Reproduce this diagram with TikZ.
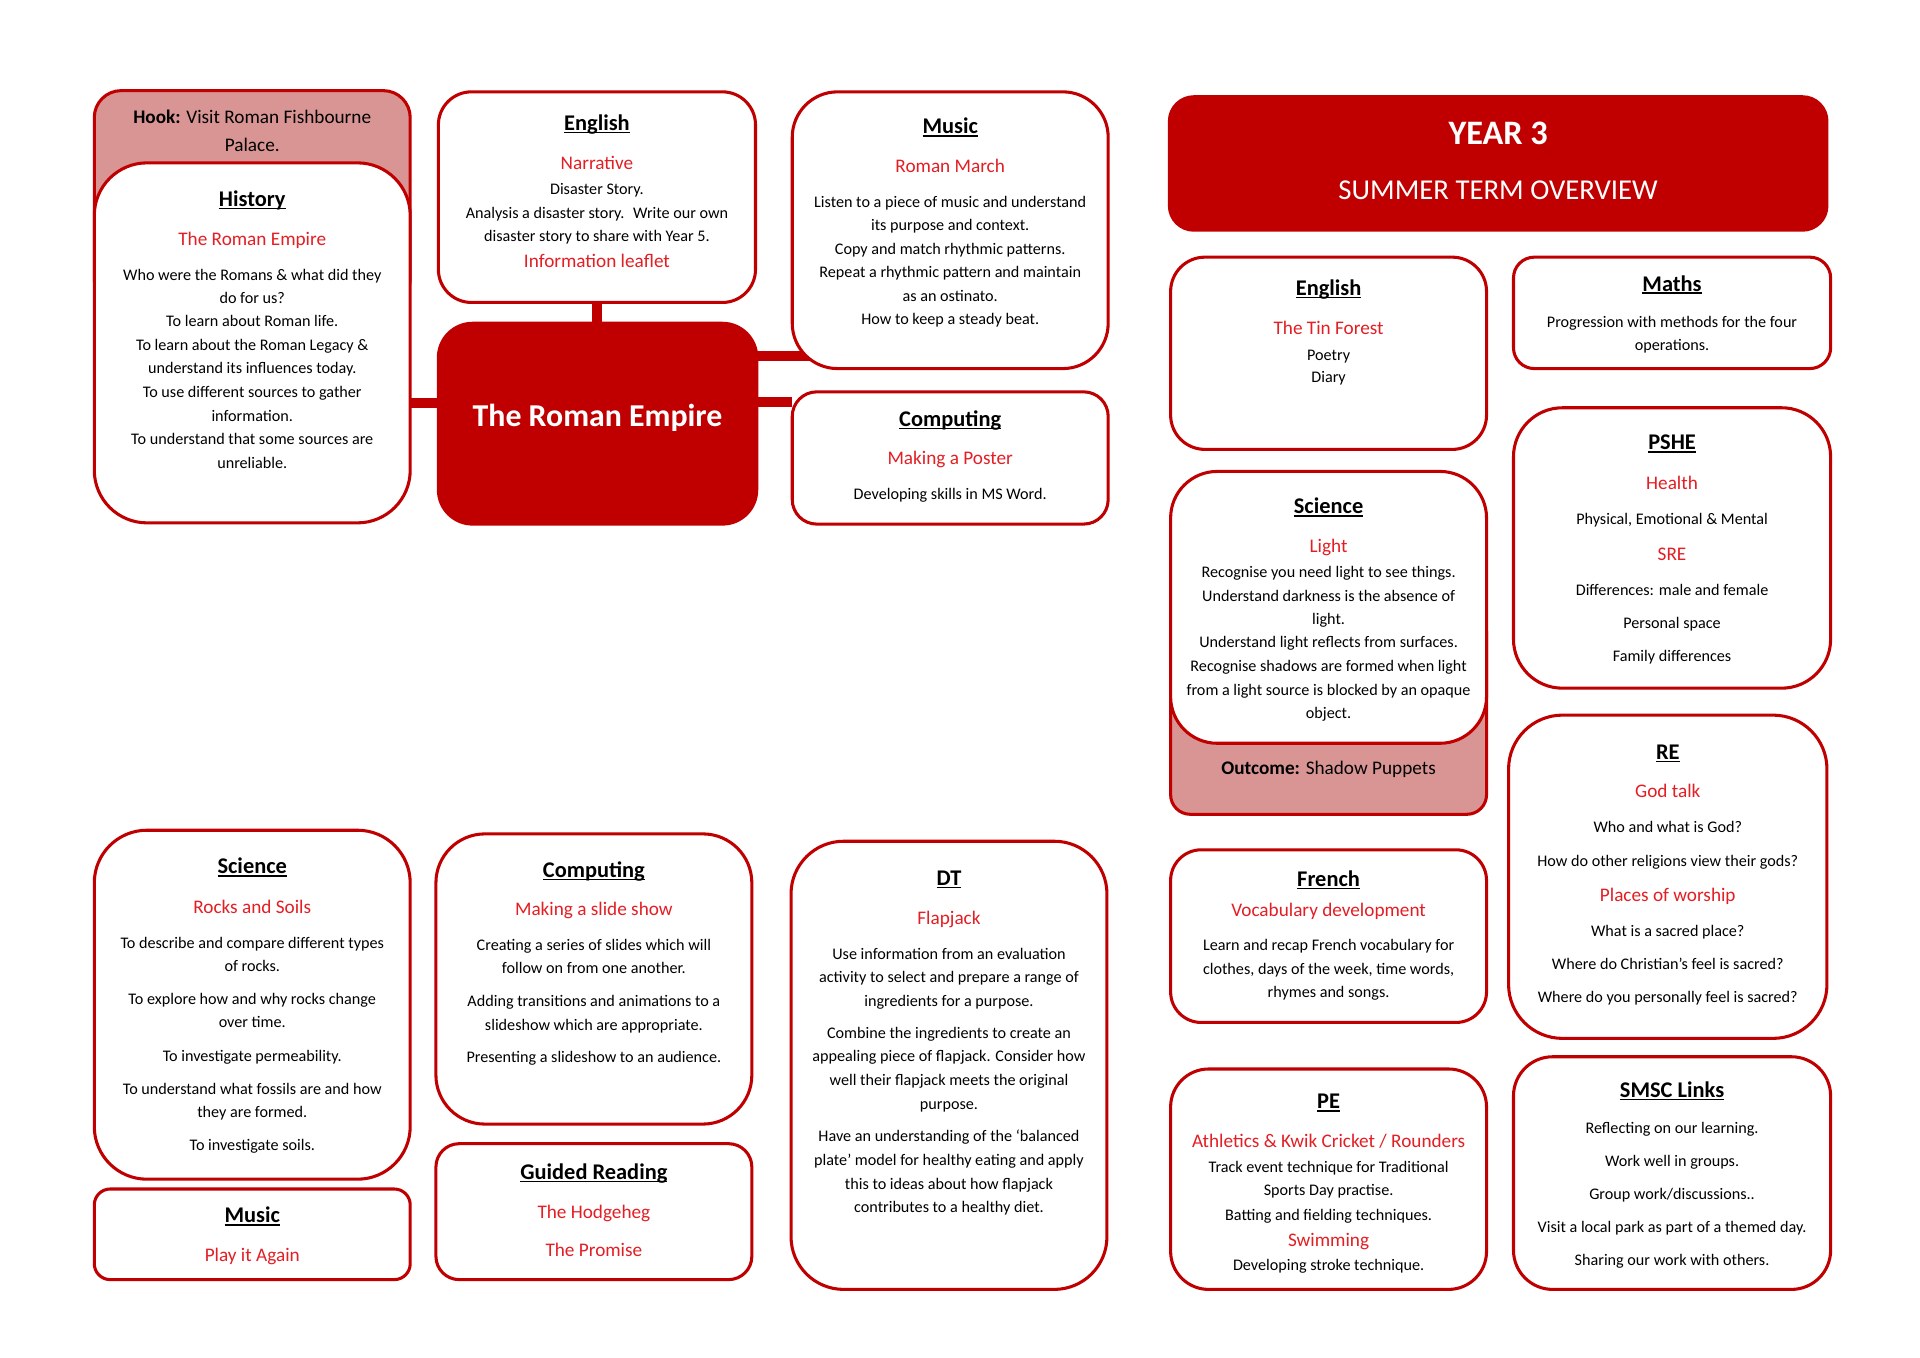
\documentclass[tikz,border=0pt]{standalone}
\usepackage{fontspec}
\setmainfont{Carlito}
\usetikzlibrary{backgrounds}
\definecolor{dkred}{HTML}{C00000}
\definecolor{txtred}{HTML}{E31E24}
\definecolor{pinkf}{HTML}{D99594}
\newcommand\ulin[1]{\setbox0\hbox{#1}\makebox[0pt][l]{\rule[-2.4pt]{\wd0}{1.3pt}}\box0}
\newcommand\fB[1]{\fontsize{13.2}{15}\selectfont\raisebox{-0.32em}{#1}}
\newcommand\fH[1]{\fontsize{15.7}{18}\selectfont\raisebox{-0.32em}{#1}}
\newcommand\fR[1]{\fontsize{15.7}{18}\selectfont\color{txtred}\raisebox{-0.32em}{#1}}
\newcommand\fT[1]{\fontsize{18.3}{22}\selectfont\bfseries\raisebox{-0.32em}{\ulin{#1}}}
\newcommand\fC[1]{\fontsize{26}{30}\selectfont\bfseries\color{white}\raisebox{-0.32em}{#1}}
\newcommand\fY[1]{\fontsize{28}{32}\selectfont\bfseries\color{white}\raisebox{-0.32em}{#1}}
\newcommand\fS[1]{\fontsize{23.5}{28}\selectfont\color{white}\raisebox{-0.32em}{#1}}
\tikzset{
  card/.style={draw=dkred, line width=2.5pt, fill=white, inner sep=0pt, outer sep=0pt},
  pinkcard/.style={card, fill=pinkf},
  redcard/.style={card, fill=dkred},
  conn/.style={draw=dkred, line width=8pt},
  ln/.style={anchor=base, inner sep=0pt, outer sep=0pt, text=black},
}
% #1 style, #2 name, #3 x1, #4 y1, #5 x2, #6 y2, #7 radius
\newcommand\card[7]{\node[#1, rounded corners=#7pt, minimum width=#5pt-#3pt, minimum height=#6pt-#4pt] (#2) at ({(#3+#5)/2},{(#4+#6)/2}) {};}
\newcommand\txtlines[3]{\foreach[count=\i] \yy/\st/\tx in {#3}{\node[ln] (#1-\i) at (#2,\yy) {\st\tx};}}
\begin{document}
\begin{tikzpicture}[x=1pt, y=-1pt]
\useasboundingbox (0,0) rectangle (1568,1109);
% cards
\card{pinkcard}{hook}{77}{74}{335}{250}{22}
\card{card}{hist}{77}{133}{335}{427}{43}
\card{card}{engT}{358}{75}{617}{247}{27}
\card{redcard}{centre}{358}{264}{618}{428}{28}
\card{card}{musT}{647}{75}{905}{301}{37}
\card{card}{compT}{647}{320}{905}{428}{20}
\card{redcard}{title}{955}{79}{1492}{188}{20}
\card{card}{engR}{956}{210}{1214}{367}{28}
\card{card}{maths}{1236}{210}{1495}{301}{17}
\card{pinkcard}{outc}{956}{500}{1214}{665}{16}
\card{card}{sciR}{956}{385}{1214}{607}{38}
\card{card}{pshe}{1236}{333}{1495}{562}{40}
\card{card}{re}{1232}{584}{1492}{848}{44}
\card{card}{french}{956}{694}{1214}{835}{25}
\card{card}{pe}{956}{873}{1214}{1053}{31}
\card{card}{smsc}{1236}{863}{1495}{1053}{32}
\card{card}{sciL}{77}{678}{335}{963}{43}
\card{card}{musL}{77}{971}{335}{1045}{13}
\card{card}{compL}{356}{681}{614}{918}{40}
\card{card}{guided}{356}{934}{614}{1045}{19}
\card{card}{dt}{646}{687}{904}{1053}{43}
% connectors
\coordinate (hy) at (0,329);
\coordinate (my) at (0,291);
\coordinate (cy) at (0,328);
\begin{scope}[on background layer]
\fill[white] (0,0) rectangle (1568,1109);
\draw[conn] (engT.south) -- (engT.south |- centre.north);
\draw[conn] (hist.east |- hy) -- (centre.west |- hy);
\draw[conn] (centre.east |- my) -- ([xshift=30pt]musT.west |- my);
\draw[conn] (centre.east |- cy) -- (compT.west |- cy);
\end{scope}
% texts
\txtlines{hookt}{206}{95.8/\fH/{\textbf{Hook:} Visit Roman Fishbourne}, 118.4/\fH/Palace.}
\txtlines{histt}{206}{162.8/\fT/History,
 195.4/\fR/The Roman Empire,
 224.6/\fB/Who were the Romans \& what did they,
 243.6/\fB/do for us?,
 262.7/\fB/To learn about Roman life.,
 282.3/\fB/To learn about the Roman Legacy \&,
 301.1/\fB/understand its influences today.,
 320.7/\fB/To use different sources to gather,
 339.7/\fB/information.,
 358.8/\fB/To understand that some sources are,
 378.4/\fB/unreliable.}
\txtlines{engTt}{487.5}{100.7/\fT/English,
 133.4/\fR/Narrative,
 154.4/\fB/Disaster Story.,
 174.2/\fB/{Analysis a disaster story.~ Write our own},
 193.3/\fB/disaster story to share with Year 5.,
 213.7/\fR/Information leaflet}
\txtlines{centret}{488}{340.3/\fC/The Roman Empire}
\txtlines{musTt}{776}{103.5/\fT/Music,
 136.1/\fR/Roman March,
 165.2/\fB/Listen to a piece of music and understand,
 184.3/\fB/its purpose and context.,
 203.6/\fB/Copy and match rhythmic patterns.,
 222.7/\fB/Repeat a rhythmic pattern and maintain,
 241.7/\fB/as an ostinato.,
 260.8/\fB/How to keep a steady beat.}
\txtlines{compTt}{776}{342.2/\fT/Computing,
 374.3/\fR/Making a Poster,
 403.7/\fB/Developing skills in MS Word.}
\txtlines{titlet}{1223.5}{108.9/\fY/YEAR 3, 155.2/\fS/SUMMER TERM OVERVIEW}
\txtlines{engRt}{1085}{235.5/\fT/English,
 268.1/\fR/The Tin Forest,
 289.9/\fB/Poetry,
 308.4/\fB/Diary}
\txtlines{mathst}{1365.5}{231.9/\fT/Maths,
 263.2/\fB/Progression with methods for the four,
 282.3/\fB/operations.}
\txtlines{sciRt}{1085}{413.8/\fT/Science,
 446.5/\fR/Light,
 467.7/\fB/Recognise you need light to see things.,
 486.7/\fB/Understand darkness is the absence of,
 505.8/\fB/light.,
 524.9/\fB/Understand light reflects from surfaces.,
 544.5/\fB/Recognise shadows are formed when light,
 563.5/\fB/from a light source is blocked by an opaque,
 582.5/\fB/object.}
\txtlines{outct}{1085}{627.5/\fH/{\textbf{Outcome:} Shadow Puppets}}
\txtlines{pshet}{1365.5}{361.5/\fT/PSHE,
 394.7/\fR/Health,
 424.1/\fB/{Physical, Emotional \& Mental},
 452.7/\fR/SRE,
 481.8/\fB/{Differences: male and female},
 509.0/\fB/Personal space,
 536.3/\fB/Family differences}
\txtlines{ret}{1362}{614.4/\fT/RE,
 646.0/\fR/God talk,
 675.9/\fB/Who and what is God?,
 703.2/\fB/How do other religions view their gods?,
 731.4/\fR/Places of worship,
 760.3/\fB/What is a sacred place?,
 787.5/\fB/Where do Christian’s feel is sacred?,
 814.8/\fB/Where do you personally feel is sacred?}
\txtlines{frencht}{1085}{718.1/\fT/French,
 743.2/\fR/Vocabulary development,
 772.3/\fB/Learn and recap French vocabulary for,
 791.6/\fB/{clothes, days of the week, time words,},
 810.7/\fB/rhymes and songs.}
\txtlines{pet}{1085}{899.7/\fT/PE,
 931.8/\fR/{Athletics \& Kwik Cricket / Rounders},
 953.6/\fB/Track event technique for Traditional,
 972.4/\fB/Sports Day practise.,
 992.2/\fB/Batting and fielding techniques.,
 1012.7/\fR/Swimming,
 1033.6/\fB/Developing stroke technique.}
\txtlines{smsct}{1365.5}{890.2/\fT/SMSC Links,
 921.4/\fB/Reflecting on our learning.,
 948.7/\fB/Work well in groups.,
 975.1/\fB/{Group work/discussions..},
 1002.3/\fB/Visit a local park as part of a themed day.,
 1029.6/\fB/Sharing our work with others.}
\txtlines{sciLt}{206}{707.8/\fT/Science,
 741.0/\fR/Rocks and Soils,
 770.4/\fB/To describe and compare different types,
 788.9/\fB/of rocks.,
 816.1/\fB/To explore how and why rocks change,
 835.2/\fB/over time.,
 862.4/\fB/To investigate permeability.,
 889.6/\fB/To understand what fossils are and how,
 908.4/\fB/they are formed.,
 935.6/\fB/To investigate soils.}
\txtlines{musLt}{206}{992.8/\fT/Music, 1024.9/\fR/Play it Again}
\txtlines{compLt}{485}{710.5/\fT/Computing,
 742.6/\fR/Making a slide show,
 772.3/\fB/Creating a series of slides which will,
 790.8/\fB/follow on from one another.,
 818.0/\fB/Adding transitions and animations to a,
 837.1/\fB/slideshow which are appropriate.,
 863.8/\fB/Presenting a slideshow to an audience.}
\txtlines{guidedt}{485}{957.4/\fT/Guided Reading,
 990.1/\fR/The Hodgeheg,
 1020.8/\fR/The Promise}
\txtlines{dtt}{775}{717.3/\fT/DT,
 750.0/\fR/Flapjack,
 779.1/\fB/Use information from an evaluation,
 798.1/\fB/activity to select and prepare a range of,
 817.5/\fB/ingredients for a purpose.,
 843.9/\fB/Combine the ingredients to create an,
 863.0/\fB/appealing piece of flapjack. Consider how,
 882.6/\fB/well their flapjack meets the original,
 901.8/\fB/purpose.,
 928.3/\fB/Have an understanding of the ‘balanced,
 947.9/\fB/plate’ model for healthy eating and apply,
 966.9/\fB/this to ideas about how flapjack,
 986.0/\fB/contributes to a healthy diet.}
\end{tikzpicture}
\end{document}
